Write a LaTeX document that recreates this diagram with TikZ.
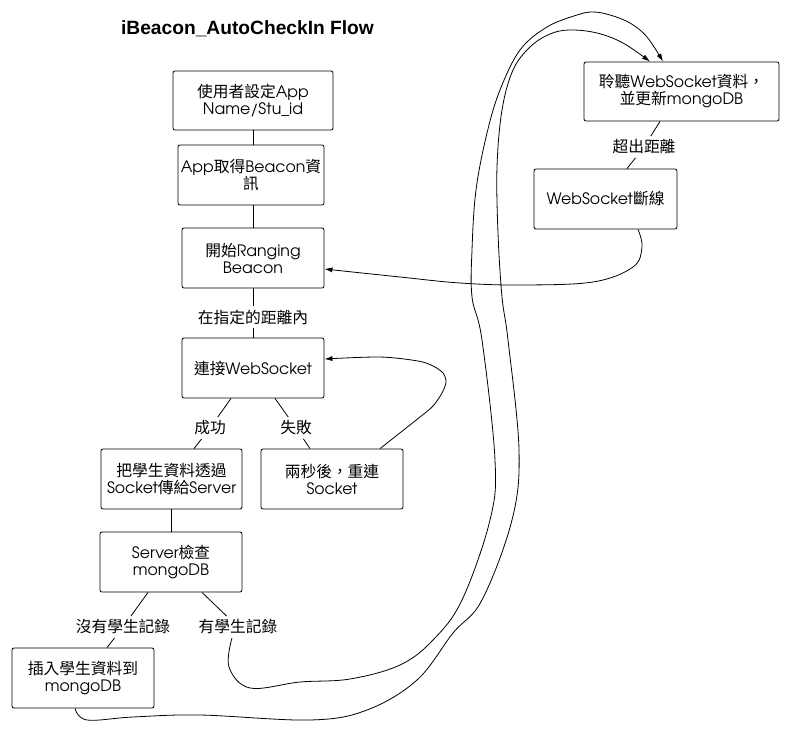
\documentclass[tikz,border=0pt]{standalone}
\usepackage{fontspec}
\setmainfont{TeX Gyre Adventor}
\newfontfamily\cjk{Noto Sans CJK TC}
\newfontfamily\ttlfont{Liberation Sans}
\usetikzlibrary{arrows.meta,calc}
\begin{document}
\begin{tikzpicture}[x=0.75pt,y=-0.75pt,
  box/.style={draw, line width=0.6pt, rounded corners=1.5pt, align=center, inner sep=1pt,
    font=\fontsize{11.8pt}{12.75pt}\selectfont},
  lbl/.style={inner sep=2.5pt, font=\fontsize{11.8pt}{12.75pt}\selectfont\cjk},
  conn/.style={line width=0.6pt},
  arr/.style={line width=0.6pt, -{Latex[length=6pt,width=3.8pt]}}]
\useasboundingbox (0,0) rectangle (791,735);

\node[font=\ttlfont\bfseries\fontsize{14.4pt}{16pt}\selectfont] (title) at (247.5,29) {iBeacon\_AutoCheckIn Flow};

\node[box, minimum width=120pt, minimum height=44.25pt] (n1) at (253,100.5) {{\cjk 使用者設定}App\\Name/Stu\_id};
\node[box, minimum width=109.5pt, minimum height=45pt] (n2) at (251,175) {App{\cjk 取得}Beacon{\cjk 資}\\{\cjk 訊}};
\node[box, minimum width=106.5pt, minimum height=45pt] (n3) at (253,258) {{\cjk 開始}Ranging\\Beacon};
\node[box, minimum width=106.5pt, minimum height=45pt] (n4) at (253,368) {{\cjk 連接}WebSocket};
\node[box, minimum width=106.5pt, minimum height=45pt] (n5) at (332,479) {{\cjk 兩秒後，重連}\\Socket};
\node[box, minimum width=105.75pt, minimum height=45pt] (n6) at (171.5,479) {{\cjk 把學生資料透過}\\Socket{\cjk 傳給}Server};
\node[box, minimum width=106.5pt, minimum height=45pt] (n7) at (171,562) {Server{\cjk 檢查}\\mongoDB};
\node[box, minimum width=106.5pt, minimum height=45pt] (n8) at (83,678) {{\cjk 插入學生資料到}\\mongoDB};
\node[box, minimum width=146.25pt, minimum height=44.25pt] (n9) at (681.5,91.5) {{\cjk 聆聽}WebSocket{\cjk 資料，}\\{\cjk 並更新}mongoDB};
\node[box, minimum width=107.25pt, minimum height=45pt] (n10) at (605.5,199) {WebSocket{\cjk 斷線}};

\node[lbl] (l1) at (253,317) {在指定的距離內};
\node[lbl] (l2) at (210,428) {成功};
\node[lbl] (l3) at (296,428) {失敗};
\node[lbl] (l4) at (123,627) {沒有學生記錄};
\node[lbl] (l5) at (238,627) {有學生記錄};
\node[lbl] (l6) at (644,147) {超出距離};

\draw[conn] (n1.south) -- (n1.south |- n2.north);
\draw[conn] (n3.north) -- (n3.north |- n2.south);
\draw[conn] (n3.south) -- (l1);
\draw[conn] (l1) -- (n4.north);

\coordinate (a1) at ($(n4.south)+(-22,0)$);
\coordinate (a2) at ($(n6.north)+(22.5,0)$);
\coordinate (b1) at ($(n4.south)+(22,0)$);
\coordinate (b2) at ($(n5.north)+(-22,0)$);
\draw[conn] (a1) -- (l2) -- (a2);
\draw[conn] (b1) -- (l3) -- (b2);

\draw[conn] (n6.south) -- (n6.south |- n7.north);

\coordinate (c1) at ($(n7.south)+(-23,0)$);
\coordinate (c2) at ($(n8.north)+(24,0)$);
\coordinate (d1) at ($(n7.south)+(31,0)$);
\draw[conn] (c1) -- (l4) -- (c2);
\draw[conn] (d1) -- (l5);

\coordinate (e1) at ($(n9.south)+(-21.5,0)$);
\coordinate (e2) at ($(n10.north)+(21.5,0)$);
\draw[conn] (e1) -- (l6) -- (e2);

% WebSocket disconnect -> Ranging
\coordinate (sA) at ($(n10.south)+(32.5,0)$);
\coordinate (tA) at ($(n3.east)+(0,11)$);
\draw[arr] plot[smooth,tension=0.6] coordinates {(sA) (642,247) (633,267) (593,282) (520,285) (460,283) (400,277) (tA)};

% retry loop
\coordinate (sC) at ($(n5.north)+(48,0)$);
\coordinate (tC) at ($(n4.east)+(0,-9)$);
\draw[arr] plot[smooth,tension=0.5] coordinates {(sC) (420,417) (433,406) (442,393) (446,382) (443,373) (433,366) (418,361) (380,357) (tC)};

% has record -> listen
\coordinate (sL) at ($(l5.south)+(-6,0)$);
\coordinate (tL) at ($(n9.north)+(-18.5,0)$);
\draw[arr] plot[smooth,tension=0.6] coordinates {(sL) (229,667) (250,688) (300,682) (350,679) (400,665) (433,640) (462,600) (490,520) (495,460) (482,340) (472,297) (472,250) (476,190) (487,133) (500,90) (520,50) (547,27) (577,15) (593,12) (610,15) (630,23) (647,37) (tL)};

% insert -> listen
\coordinate (sR) at ($(n8.south)+(-8,0)$);
\coordinate (tR) at ($(n9.north)+(-31.5,0)$);
\draw[arr] plot[smooth,tension=0.6] coordinates {(sR) (87,720) (133,717) (200,715) (310,720) (367,710) (417,680) (453,633) (482,600) (512,520) (519,450) (508,340) (502,297) (498,233) (497,167) (502,110) (513,70) (530,47) (550,34) (570,30) (597,33) (623,43) (tR)};
\end{tikzpicture}
\end{document}
